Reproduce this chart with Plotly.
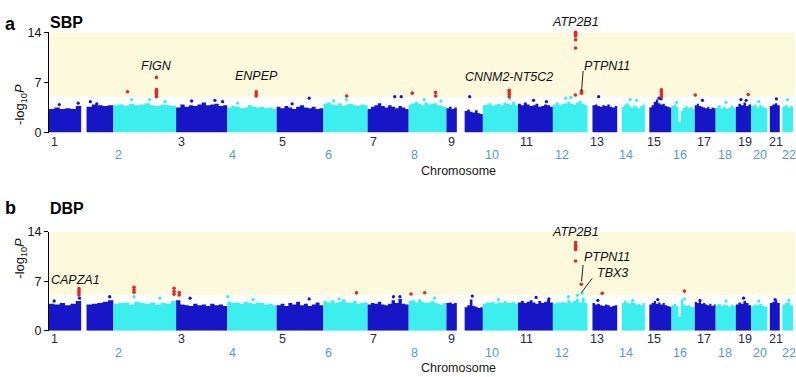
import plotly.graph_objects as go

# ---------------- data ----------------
chrom_names = [str(i) for i in range(1, 23)]
chrom_len = [249, 243, 198, 191, 181, 171, 159, 146, 141, 136, 135, 134,
             115, 107, 103, 90, 81, 78, 59, 63, 48, 51]  # Mb

# bulk envelope (-log10 P) over equal segments of each chromosome (0 = no SNPs)
sbp_bulk = [
    [3.3, 3.5, 3.3, 3.4, 3.3, 3.7, 0, 3.6, 3.9, 3.8, 3.7, 3.8],
    [3.8, 3.9, 3.7, 4.0, 3.8, 3.9, 4.1, 3.8, 3.7, 3.9, 3.8, 3.7],
    [3.5, 3.9, 3.6, 3.8, 3.7, 3.9, 4.2, 3.8, 3.9, 4.0, 3.7, 3.8],
    [3.5, 3.7, 3.6, 3.4, 3.5, 3.8, 3.6, 3.5, 3.6, 3.4, 3.5, 3.3],
    [3.6, 3.4, 3.7, 3.5, 3.3, 3.6, 3.8, 3.5, 3.4, 3.6, 3.3, 3.4],
    [4.0, 4.2, 3.9, 3.8, 4.1, 3.7, 3.9, 4.0, 3.8, 3.7, 3.9, 3.8],
    [3.3, 3.6, 3.8, 4.1, 3.7, 3.5, 3.8, 3.6, 3.4, 3.7, 3.5, 3.3],
    [3.9, 4.1, 4.3, 4.0, 3.8, 4.2, 3.9, 4.0, 4.1, 3.8, 3.7, 3.6],
    [3.4, 3.6, 3.3, 3.5, 0, 0, 0, 3.0, 3.2, 2.9, 2.8, 3.1, 2.7, 2.6],
    [3.8, 3.9, 4.1, 3.7, 3.9, 4.0, 3.8, 4.2, 4.0, 3.9, 4.3, 3.8],
    [4.0, 3.8, 4.2, 3.9, 3.7, 3.8, 4.0, 3.6, 3.7, 3.9, 3.8, 3.6],
    [3.9, 4.2, 3.8, 4.0, 4.1, 4.3, 4.0, 3.9, 4.2, 4.4, 4.0, 3.8],
    [0, 0, 3.8, 3.9, 3.7, 3.6, 3.8, 3.7, 3.9, 3.6, 3.5, 3.7],
    [0, 0, 3.6, 3.9, 4.1, 3.7, 3.5, 3.8, 3.6, 3.4, 3.7, 3.9],
    [0, 0, 3.5, 3.8, 4.3, 4.6, 4.1, 3.9, 4.0, 3.7, 3.6, 3.5],
    [3.7, 3.9, 3.6, 1.5, 3.0, 3.5, 3.7, 3.4, 3.6, 3.3],
    [3.8, 4.0, 3.7, 3.6, 3.5, 3.4, 3.6, 3.3, 3.5, 3.4],
    [3.5, 3.8, 3.4, 3.6, 3.3, 3.5, 3.7, 3.4],
    [3.6, 4.0, 3.8, 4.2, 3.7, 3.9],
    [3.7, 3.9, 3.5, 3.8, 3.6, 3.4],
    [0, 3.7, 3.9, 4.1, 3.8],
    [0, 3.6, 3.8, 3.5, 3.7],
]
dbp_bulk = [
    [3.8, 3.7, 3.9, 3.6, 3.8, 4.2, 0, 3.7, 3.8, 3.9, 4.1, 4.3],
    [3.8, 3.9, 4.0, 3.7, 4.1, 3.9, 3.8, 4.0, 3.7, 3.9, 3.8, 4.2],
    [4.3, 3.7, 3.6, 3.5, 3.8, 3.6, 3.7, 3.5, 3.8, 3.6, 3.7, 3.5],
    [4.1, 3.9, 4.0, 3.8, 4.1, 3.9, 3.8, 4.0, 3.9, 3.7, 3.8, 3.6],
    [3.6, 3.8, 3.5, 3.9, 3.7, 4.1, 3.6, 3.8, 3.5, 3.7, 4.0, 3.6],
    [4.2, 4.0, 4.3, 3.9, 4.1, 4.4, 4.0, 3.9, 4.2, 3.8, 3.9, 4.0],
    [3.7, 3.9, 3.8, 4.1, 3.7, 3.6, 3.8, 4.3, 3.9, 4.5, 3.8, 3.7],
    [4.2, 4.3, 4.0, 4.4, 4.1, 3.9, 4.0, 4.2, 3.9, 3.8, 3.7, 3.9],
    [3.9, 4.0, 3.8, 3.9, 0, 0, 0, 3.3, 3.6, 4.4, 3.5, 3.4, 3.2, 3.3],
    [3.8, 4.0, 3.9, 4.1, 3.8, 4.0, 3.9, 4.2, 4.0, 3.9, 4.1, 3.8],
    [4.0, 4.2, 3.9, 4.1, 4.3, 4.0, 3.8, 4.2, 3.9, 4.1, 4.4, 4.0],
    [3.8, 4.0, 3.9, 4.1, 3.9, 4.3, 4.0, 4.2, 4.5, 4.0, 4.7, 3.9],
    [0, 0, 3.9, 3.7, 3.8, 3.6, 3.5, 3.7, 3.6, 3.4, 3.5, 3.6],
    [0, 0, 3.9, 4.2, 4.0, 3.8, 4.1, 3.9, 3.7, 3.8, 3.6, 3.9],
    [0, 0, 3.7, 3.9, 4.2, 3.8, 4.0, 3.7, 3.9, 3.6, 3.5, 3.4],
    [3.6, 3.8, 3.5, 2.0, 4.4, 3.7, 3.5, 3.6, 3.4, 3.3],
    [4.1, 3.9, 4.2, 3.8, 3.9, 3.7, 3.6, 3.8, 3.5, 3.7],
    [3.6, 3.8, 3.5, 3.7, 3.6, 3.4, 3.7, 3.5],
    [3.7, 4.0, 3.8, 4.2, 3.9, 3.6],
    [3.5, 3.7, 3.6, 3.8, 3.5, 3.4],
    [0, 3.9, 4.1, 4.3, 3.9],
    [0, 3.7, 3.9, 4.0, 3.6],
]

# isolated SNPs above the bulk (chromosome, position Mb, -log10 P)
sbp_dot_chr = [1, 1, 1, 1, 2, 2, 2, 3, 3, 3, 4, 5, 5, 6, 6, 7, 7, 8, 8, 9, 10, 11, 11, 12, 12, 13, 14, 14,
               15, 15, 16, 17, 18, 19, 19, 20, 21, 22]
sbp_dot_pos = [40, 113, 160, 185, 70, 140, 200, 60, 150, 180, 40, 126, 60, 89, 40, 105, 130, 60, 125, 90,
               104, 60, 110, 50, 70, 43, 50, 75, 55, 63, 20, 30, 40, 20, 40, 30, 35, 30]
sbp_dot_val = [3.9, 4.1, 4.3, 4.0, 4.6, 4.6, 4.3, 4.4, 4.5, 4.3, 4.1, 4.8, 4.0, 4.6, 4.4, 5.0, 5.0, 4.6,
               4.4, 5.0, 4.7, 4.5, 4.3, 4.8, 4.9, 5.0, 4.6, 4.5, 4.8, 4.7, 4.2, 4.5, 4.2, 4.6, 4.5, 4.3,
               4.7, 4.6]

dbp_dot_chr = [1, 1, 1, 2, 2, 3, 4, 4, 5, 6, 7, 7, 8, 9, 10, 11, 11, 12, 12, 12, 13, 14, 15, 16, 17, 18,
               19, 20, 21, 22]
dbp_dot_pos = [118, 235, 20, 80, 180, 54, 2, 100, 126, 60, 100, 125, 100, 100, 60, 70, 120, 60, 95, 113,
               40, 60, 50, 50, 20, 40, 30, 30, 30, 35]
dbp_dot_val = [4.6, 4.8, 4.2, 4.8, 4.6, 4.6, 4.8, 4.4, 4.5, 4.5, 4.8, 4.8, 4.6, 4.9, 4.4, 4.7, 4.5, 4.8,
               5.0, 5.3, 4.3, 4.3, 4.4, 4.5, 4.3, 4.2, 4.6, 4.2, 4.4, 4.3]

# genome-wide hits (red)
sbp_hit_chr = [2, 2, 2, 2, 2, 2, 2, 4, 4, 4, 6, 8, 8, 8, 10, 10, 10, 10,
               12, 12, 12, 12, 12, 12, 12, 12, 12, 15, 15, 15, 15, 17, 19]
sbp_hit_pos = [55, 167, 167, 167, 167, 167, 167, 112, 112, 112, 90, 14, 104, 104, 102, 102, 102, 102,
               88, 88, 88, 88, 88, 88, 87, 111, 111, 64, 64, 64, 64, 2, 48]
sbp_hit_val = [5.7, 5.0, 5.25, 5.5, 5.75, 6.0, 7.7, 5.1, 5.4, 5.7, 5.1, 5.5, 5.1, 5.6, 5.0, 5.3, 5.6, 5.9,
               14.0, 13.85, 13.7, 13.5, 12.95, 11.8, 5.25, 5.5, 5.8, 5.0, 5.3, 5.6, 5.95, 5.25, 5.3]

dbp_hit_chr = [1, 1, 1, 1, 2, 2, 2, 2, 2, 2, 3, 3, 6, 8, 8, 12, 12, 12, 12, 12, 12, 13, 16]
dbp_hit_pos = [116, 116, 116, 116, 80, 80, 80, 235, 235, 235, 12, 12, 128, 9, 62, 88, 88, 88, 88, 88, 110, 57, 50]
dbp_hit_val = [5.05, 5.35, 5.65, 5.95, 5.45, 5.8, 6.15, 5.15, 5.55, 6.0, 5.05, 5.4, 5.37, 5.2, 5.37,
               12.45, 12.1, 11.8, 11.5, 9.86, 6.56, 5.3, 5.6]

# gene labels (chromosome, position of hit, label height)
sbp_gene = ["FIGN", "ENPEP", "CNNM2-NT5C2", "ATP2B1", "PTPN11"]
sbp_gene_chr = [2, 4, 10, 12, 12]
sbp_gene_pos = [167, 112, 102, 88, 111]
sbp_gene_y = [9.3, 7.9, 7.8, 15.5, 9.3]

dbp_gene = ["CAPZA1", "ATP2B1", "PTPN11", "TBX3"]
dbp_gene_chr = [1, 12, 12, 12]
dbp_gene_pos = [104, 88, 111, 111]
dbp_gene_y = [7.2, 13.95, 10.4, 8.2]

# leader lines (chromosome, pos top, pos bottom, y top, y bottom)
sbp_lead = [(12, 117, 111, 8.6, 5.8)]
dbp_lead = [(12, 117, 111, 9.3, 7.0), (12, 152, 111, 7.4, 5.4)]

threshold = 5.0
y_ticks = [0, 7, 14]
y_max = 14

# ---------------- styling ----------------
DARK = "#1616c6"
LIGHT = "#3ceeee"
RED = "#e6262c"
BG = "#fcf9dc"
ODD_LBL = "#1f2a48"
EVEN_LBL = "#5b98c8"
FONT = "Liberation Sans, Arial, sans-serif"

starts = []
acc = 0
for L in chrom_len:
    starts.append(acc)
    acc += L
total = acc


def cum(c, p):
    return starts[c - 1] + p


W, H = 796, 377
X0, X1 = 49, 795
panels = [
    dict(name="SBP", letter="a", bulk=sbp_bulk, dchr=sbp_dot_chr, dpos=sbp_dot_pos, dval=sbp_dot_val,
         hchr=sbp_hit_chr, hpos=sbp_hit_pos, hval=sbp_hit_val,
         gene=sbp_gene, gchr=sbp_gene_chr, gpos=sbp_gene_pos, gy=sbp_gene_y, lead=sbp_lead,
         top=32.3, bot=132.5, odd_y=141.7, even_y=155.0, title_y=172.0, head_y=12.0),
    dict(name="DBP", letter="b", bulk=dbp_bulk, dchr=dbp_dot_chr, dpos=dbp_dot_pos, dval=dbp_dot_val,
         hchr=dbp_hit_chr, hpos=dbp_hit_pos, hval=dbp_hit_val,
         gene=dbp_gene, gchr=dbp_gene_chr, gpos=dbp_gene_pos, gy=dbp_gene_y, lead=dbp_lead,
         top=231.7, bot=330.7, odd_y=339.0, even_y=352.5, title_y=369.0, head_y=208.0),
]

fig = go.Figure()
annotations = []
shapes = []
layout_axes = {}

for k, pnl in enumerate(panels):
    sfx = "" if k == 0 else str(k + 1)
    xa, ya = "x" + sfx, "y" + sfx
    px_per_unit = (pnl["bot"] - pnl["top"]) / y_max
    # bulk of SNPs per chromosome
    for i, env in enumerate(pnl["bulk"]):
        n = len(env)
        w = chrom_len[i] / n
        xs = [starts[i] + j * w for j in range(n + 1)]
        ys = list(env) + [env[-1]]
        col = DARK if i % 2 == 0 else LIGHT
        fig.add_trace(go.Scatter(x=xs, y=ys, mode="lines", line=dict(width=0, shape="hv"),
                                 fill="tozeroy", fillcolor=col, hoverinfo="skip",
                                 showlegend=False, xaxis=xa, yaxis=ya))
    # isolated dots
    dcol = [DARK if c % 2 == 1 else LIGHT for c in pnl["dchr"]]
    fig.add_trace(go.Scatter(x=[cum(c, p) for c, p in zip(pnl["dchr"], pnl["dpos"])], y=pnl["dval"],
                             mode="markers", marker=dict(size=3.3, color=dcol),
                             showlegend=False, xaxis=xa, yaxis=ya, cliponaxis=False))
    # hits
    fig.add_trace(go.Scatter(x=[cum(c, p) for c, p in zip(pnl["hchr"], pnl["hpos"])], y=pnl["hval"],
                             mode="markers", marker=dict(size=3.6, color=RED),
                             showlegend=False, xaxis=xa, yaxis=ya, cliponaxis=False))
    # background band
    shapes.append(dict(type="rect", xref=xa + " domain", yref=ya, x0=0, x1=1, y0=threshold, y1=y_max,
                       fillcolor=BG, line=dict(width=0), layer="below"))
    # gene labels
    for g, c, p, yy in zip(pnl["gene"], pnl["gchr"], pnl["gpos"], pnl["gy"]):
        anchor = "left" if g in ("PTPN11", "TBX3") else "center"
        xshift = 13 if g == "TBX3" else 0
        yshift = 0
        ypos = yy
        if yy > y_max:  # label above the plotting area
            ypos = y_max
            yshift = (yy - y_max) * px_per_unit
        annotations.append(dict(text="<i>%s</i>" % g, x=cum(c, p), y=ypos, xref=xa, yref=ya,
                                showarrow=False, xanchor=anchor, xshift=xshift, yshift=yshift,
                                font=dict(size=12.5, color="#111111", family=FONT)))
    for (c, pt, pb, yt, yb) in pnl["lead"]:
        shapes.append(dict(type="line", xref=xa, yref=ya, x0=cum(c, pt), x1=cum(c, pb), y0=yt, y1=yb,
                           line=dict(color="#222222", width=1)))
    # chromosome labels
    for i, nm in enumerate(chrom_names):
        odd = (i % 2 == 0)
        annotations.append(dict(text=nm, x=starts[i], xref=xa, xanchor="left",
                                y=1 - (pnl["odd_y"] if odd else pnl["even_y"]) / H, yref="paper",
                                yanchor="middle", showarrow=False,
                                font=dict(size=12.5, color=ODD_LBL if odd else EVEN_LBL, family=FONT)))
    annotations.append(dict(text="Chromosome", x=458 / W, y=1 - (pnl["title_y"] + 7.5) / H,
                            yanchor="bottom", xref="paper", yref="paper",
                            showarrow=False, font=dict(size=12.5, color="#1a1a1a", family=FONT)))
    annotations.append(dict(text="-log<sub>10</sub><i>P</i>", x=21 / W, xanchor="center",
                            y=1 - (pnl["top"] + pnl["bot"]) / 2 / H, yref="paper", xref="paper",
                            textangle=-90, showarrow=False,
                            font=dict(size=13, color="#111111", family=FONT)))
    annotations.append(dict(text="<b>%s</b>" % pnl["letter"], x=3 / W, xanchor="left",
                            y=1 - pnl["head_y"] / H, yref="paper", xref="paper", showarrow=False,
                            font=dict(size=18, color="#000000", family=FONT)))
    annotations.append(dict(text="<b>%s</b>" % pnl["name"], x=48 / W, xanchor="left",
                            y=1 - pnl["head_y"] / H, yref="paper", xref="paper", showarrow=False,
                            font=dict(size=16, color="#000000", family=FONT)))
    layout_axes["xaxis" + sfx] = dict(domain=[X0 / W, X1 / W], range=[0, total + 8], showline=False,
                                      showticklabels=False, showgrid=False, zeroline=False,
                                      ticks="", anchor=ya, automargin=False)
    layout_axes["yaxis" + sfx] = dict(domain=[1 - pnl["bot"] / H, 1 - pnl["top"] / H], range=[0, y_max],
                                      tickvals=y_ticks, ticks="outside", ticklen=4, tickwidth=1,
                                      tickcolor="#000000", showline=True, linecolor="#000000",
                                      linewidth=1, showgrid=False, zeroline=False, anchor=xa,
                                      automargin=False,
                                      tickfont=dict(size=12.5, color="#111111", family=FONT))

fig.update_layout(width=W, height=H, margin=dict(l=0, r=0, t=0, b=0),
                  paper_bgcolor="white", plot_bgcolor="white",
                  annotations=annotations, shapes=shapes, showlegend=False,
                  font=dict(family=FONT), **layout_axes)

fig.write_html("out.html", config={"displayModeBar": False},
               post_script="document.body.style.margin='0';document.body.style.overflow='hidden';")
